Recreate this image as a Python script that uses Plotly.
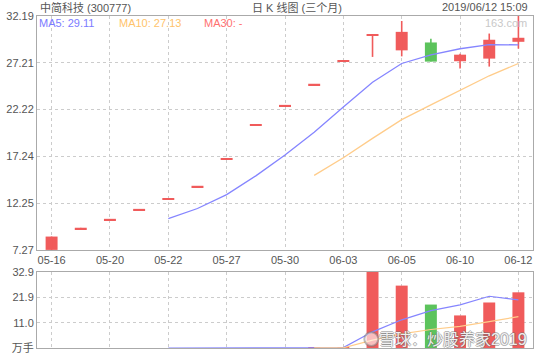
import plotly.graph_objects as go

# ---------------- data ----------------
dates = ["05-16", "05-17", "05-20", "05-21", "05-22", "05-23", "05-27", "05-28", "05-30",
         "05-31", "06-03", "06-04", "06-05", "06-06", "06-10", "06-11", "06-12"]
opens = [7.27, 9.56, 10.51, 11.57, 12.73, 14.03, 16.95, 20.54, 22.65,
         24.90, 27.40, 30.18, 28.53, 29.37, 27.37, 27.65, 29.44]
highs = [8.69, 9.62, 10.53, 11.63, 12.78, 14.08, 16.98, 20.60, 22.68,
         24.95, 27.45, 30.18, 31.66, 29.76, 28.18, 30.32, 32.19]
lows = [7.27, 9.56, 10.51, 11.57, 12.73, 14.03, 16.95, 20.54, 22.65,
        24.90, 27.40, 27.83, 27.89, 27.33, 26.59, 26.80, 28.71]
closes = [8.69, 9.56, 10.51, 11.57, 12.73, 14.03, 16.95, 20.54, 22.65,
          24.90, 27.40, 30.18, 30.50, 27.33, 28.07, 29.66, 29.87]
ma5 = [None, None, None, None, 10.61, 11.68, 13.16, 15.16, 17.38,
       19.81, 22.49, 25.13, 27.13, 28.06, 28.70, 29.15, 29.11]
ma10 = [None, None, None, None, None, None, None, None, None,
        15.21, 17.08, 19.15, 21.15, 22.72, 24.26, 25.82, 27.13]
volumes = [0, 0, 0, 0, 0, 0, 0, 0, 0,
           0.40, 0.40, 32.9, 27.0, 18.8, 14.1, 19.7, 24.1]
vol_ma5 = [None, None, None, None, 0.0, 0.0, 0.0, 0.0, 0.0,
           0.08, 0.16, 7.0, 12.2, 16.2, 18.7, 22.4, 20.8]
vol_ma10 = [None, None, None, None, None, None, None, None, None,
            0.04, 0.08, 3.4, 6.1, 8.0, 9.4, 11.4, 13.6]

price_ticks = [7.27, 12.25, 17.24, 22.22, 27.21, 32.19]
price_labels = ["7.27", "12.25", "17.24", "22.22", "27.21", "32.19"]
vol_ticks = [0, 10.97, 21.93, 32.9]
vol_labels = ["万手", "11.0", "21.9", "32.9"]
x_ticks = dates[::2]

title_left = "中简科技 (300777)"
title_mid = "日 K 线图 (三个月)"
title_right = "2019/06/12 15:09"

# ---------------- styling ----------------
RED = "#f05b5b"
GREEN = "#5cc35c"
BLUE = "#8585ff"
ORANGE = "#ffcc8a"
GRID = "#cccccc"
AXIS = "#aaaaaa"
TXT = "#555555"
FONT = "Liberation Sans, Arial, Noto Sans CJK SC, sans-serif"

W, H = 540, 360
ML, MR, MT, MB = 37, 6, 16, 9
PW, PH = W - ML - MR, H - MT - MB


def px(x):
    return (x - ML) / PW


def py(y):
    return (H - MB - y) / PH


up = [c >= o for o, c in zip(opens, closes)]
colors = [RED if u else GREEN for u in up]

body_base, body_h = [], []
for o, c in zip(opens, closes):
    h = abs(c - o)
    if h < 0.14:
        body_base.append(min(o, c) - 0.07)
        body_h.append(0.14)
    else:
        body_base.append(min(o, c))
        body_h.append(h)

fig = go.Figure()

# wicks
for col, flag in ((RED, True), (GREEN, False)):
    wx, wy = [], []
    for d, l, hgh, u in zip(dates, lows, highs, up):
        if u == flag:
            wx += [d, d, None]
            wy += [l, hgh, None]
    fig.add_trace(go.Scatter(x=wx, y=wy, mode="lines", line=dict(color=col, width=1.6),
                             hoverinfo="skip", showlegend=False, xaxis="x", yaxis="y"))

# bodies
fig.add_trace(go.Bar(x=dates, y=body_h, base=body_base, width=0.41,
                     marker=dict(color=colors, line=dict(width=0)),
                     showlegend=False, xaxis="x", yaxis="y"))

# price MAs
fig.add_trace(go.Scatter(x=dates, y=ma5, mode="lines", line=dict(color=BLUE, width=1.3),
                         showlegend=False, xaxis="x", yaxis="y"))
fig.add_trace(go.Scatter(x=dates, y=ma10, mode="lines", line=dict(color=ORANGE, width=1.3),
                         showlegend=False, xaxis="x", yaxis="y"))

# volume
fig.add_trace(go.Bar(x=dates, y=volumes, width=0.41,
                     marker=dict(color=colors, line=dict(width=0)),
                     showlegend=False, xaxis="x2", yaxis="y2"))
fig.add_trace(go.Scatter(x=dates, y=vol_ma5, mode="lines", line=dict(color=BLUE, width=1.2),
                         showlegend=False, xaxis="x2", yaxis="y2"))
fig.add_trace(go.Scatter(x=dates, y=vol_ma10, mode="lines", line=dict(color=ORANGE, width=1.2),
                         showlegend=False, xaxis="x2", yaxis="y2"))

axis_common = dict(showline=True, mirror=True, linecolor=AXIS, linewidth=1,
                   showgrid=True, gridcolor=GRID, griddash="3px,3px", gridwidth=1,
                   zeroline=False, ticks="", tickfont=dict(size=11, color=TXT, family=FONT))

main_bottom = py(252)
vol_top = py(274.3)

fig.update_layout(
    width=W, height=H,
    margin=dict(l=ML, r=MR, t=MT, b=MB),
    paper_bgcolor="white", plot_bgcolor="white",
    font=dict(family=FONT, size=11, color=TXT),
    barmode="overlay",
    xaxis=dict(domain=[0, 1], anchor="y", type="category", categoryorder="array",
               categoryarray=dates, range=[-0.5, len(dates) - 0.5],
               tickmode="array", tickvals=x_ticks, ticktext=x_ticks, **axis_common),
    yaxis=dict(domain=[main_bottom, 1], anchor="x", range=[price_ticks[0], price_ticks[-1]],
               tickmode="array", tickvals=price_ticks, ticktext=price_labels, **axis_common),
    xaxis2=dict(domain=[0, 1], anchor="y2", type="category", categoryorder="array",
                categoryarray=dates, range=[-0.5, len(dates) - 0.5], matches="x",
                tickmode="array", tickvals=x_ticks, showticklabels=False, **axis_common),
    yaxis2=dict(domain=[0, vol_top], anchor="x2", range=[0, 32.9],
                tickmode="array", tickvals=vol_ticks, ticktext=vol_labels, **axis_common),
)

ann = []


def text(s, x, y, anchor="left", color=TXT, size=11, shadow=None):
    f = dict(size=size, color=color, family=FONT)
    if shadow:
        f["shadow"] = shadow
    ann.append(dict(text=s, x=px(x), y=py(y), xref="paper", yref="paper",
                    xanchor=anchor, yanchor="middle", showarrow=False, font=f))


text(title_left, 38, 7)
text(title_mid, 250, 7)
text(title_right, 531, 7, anchor="right")
text("MA5: 29.11", 37, 23, color="#7b7bff")
text("MA10: 27.13", 117, 23, color="#ffc36b")
text("MA30: -", 202.5, 23, color="#ff7070")
text("163.com", 530, 23, anchor="right", color="#c8c8c8")

# watermark
wm = "雪球：炒股养家2019"
text(wm, 378, 342, color="rgba(255,255,255,0.9)", size=16,
     shadow="1px 0 0 rgba(110,110,110,0.55), -1px 0 0 rgba(110,110,110,0.55), "
            "0 1px 0 rgba(110,110,110,0.55), 0 -1px 0 rgba(110,110,110,0.55)")

fig.update_layout(annotations=ann)
fig.add_shape(type="circle", xref="paper", yref="paper",
              x0=px(365), x1=px(379), y0=py(349), y1=py(335),
              line=dict(color="rgba(120,120,120,0.5)", width=2),
              fillcolor="rgba(255,255,255,0.6)")

fig.write_html("out.html")
